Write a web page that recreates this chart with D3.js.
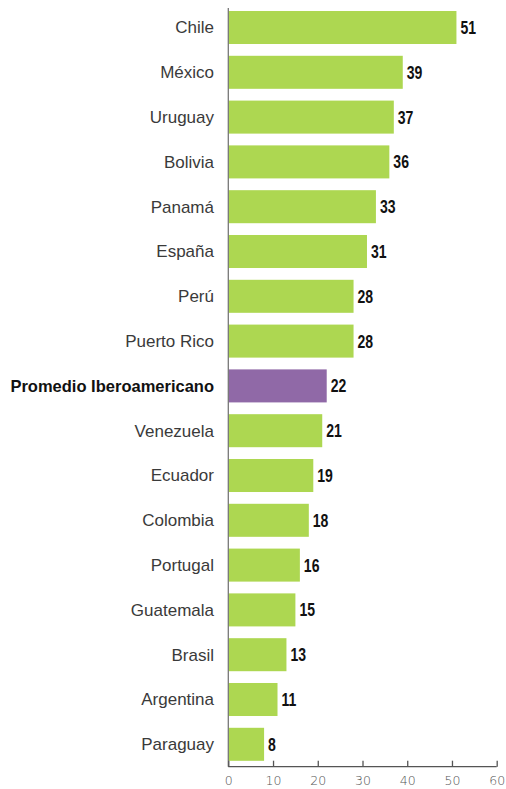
<!DOCTYPE html>
<html><head><meta charset="utf-8">
<script src="https://cdn.jsdelivr.net/npm/d3@7"></script>
<style>
html,body{margin:0;padding:0;background:#fff;}
svg{display:block;}
</style></head>
<body>
<svg id="chart" width="506" height="789"></svg>
<script>
const categories = ["Chile","México","Uruguay","Bolivia","Panamá","España","Perú","Puerto Rico","Promedio Iberoamericano","Venezuela","Ecuador","Colombia","Portugal","Guatemala","Brasil","Argentina","Paraguay"];
const values = [51,39,37,36,33,31,28,28,22,21,19,18,16,15,13,11,8];
const highlight = "Promedio Iberoamericano";
const xTicks = [0,10,20,30,40,50,60];

const data = categories.map((c,i)=>({cat:c, val:values[i]}));
const svg = d3.select("#chart");
const x = d3.scaleLinear().domain([0,60]).range([228.3,496.7]);
const y = d3.scaleBand().domain(categories).range([5.1,766.7]).paddingInner(0.263).paddingOuter(0.1315);

svg.selectAll("rect.bar").data(data).enter().append("rect")
  .attr("class","bar")
  .attr("x", x(0))
  .attr("y", d=>y(d.cat))
  .attr("width", d=>x(d.val)-x(0))
  .attr("height", y.bandwidth())
  .attr("fill", d=>d.cat===highlight ? "#9069a7" : "#add751");

// vertical axis line
svg.append("line").attr("x1",x(0)).attr("x2",x(0)).attr("y1",8).attr("y2",766.7)
  .attr("stroke","#777").attr("stroke-width",1.3);

// category labels
svg.selectAll("text.cat").data(data).enter().append("text")
  .attr("class","cat")
  .attr("x", 214)
  .attr("y", d=>y(d.cat)+y.bandwidth()/2)
  .attr("dy","0.35em")
  .attr("text-anchor","end")
  .attr("font-family","'Liberation Sans', Arial, sans-serif")
  .attr("font-size", d=>d.cat===highlight ? "16.5px" : "17px")
  .attr("font-weight", d=>d.cat===highlight ? "bold" : "normal")
  .attr("fill", d=>d.cat===highlight ? "#111" : "#3a3a3a")
  .text(d=>d.cat);

// value labels (condensed bold)
svg.selectAll("text.val").data(data).enter().append("text")
  .attr("class","val")
  .attr("transform", d=>`translate(${x(d.val)+4},${y(d.cat)+y.bandwidth()/2}) scale(0.78,1)`)
  .attr("dy","0.36em")
  .attr("font-family","'Liberation Sans', Arial, sans-serif")
  .attr("font-weight","bold")
  .attr("font-size","18px")
  .attr("fill","#111")
  .text(d=>d.val);

// x axis
const xAxis = d3.axisBottom(x).tickValues(xTicks).tickSize(-6).tickPadding(9);
const gx = svg.append("g").attr("transform","translate(0,766.7)").call(xAxis);
gx.select(".domain").attr("stroke","#555").attr("stroke-width",1.3).attr("d",`M${x(0)},0H${x(60)}`);
gx.selectAll(".tick line").attr("stroke","#555").attr("stroke-width",1.3);
gx.selectAll(".tick text").attr("font-family","'DejaVu Sans', sans-serif").attr("font-size","12.5px").attr("font-weight","300").attr("fill","#555");
</script>
</body></html>
